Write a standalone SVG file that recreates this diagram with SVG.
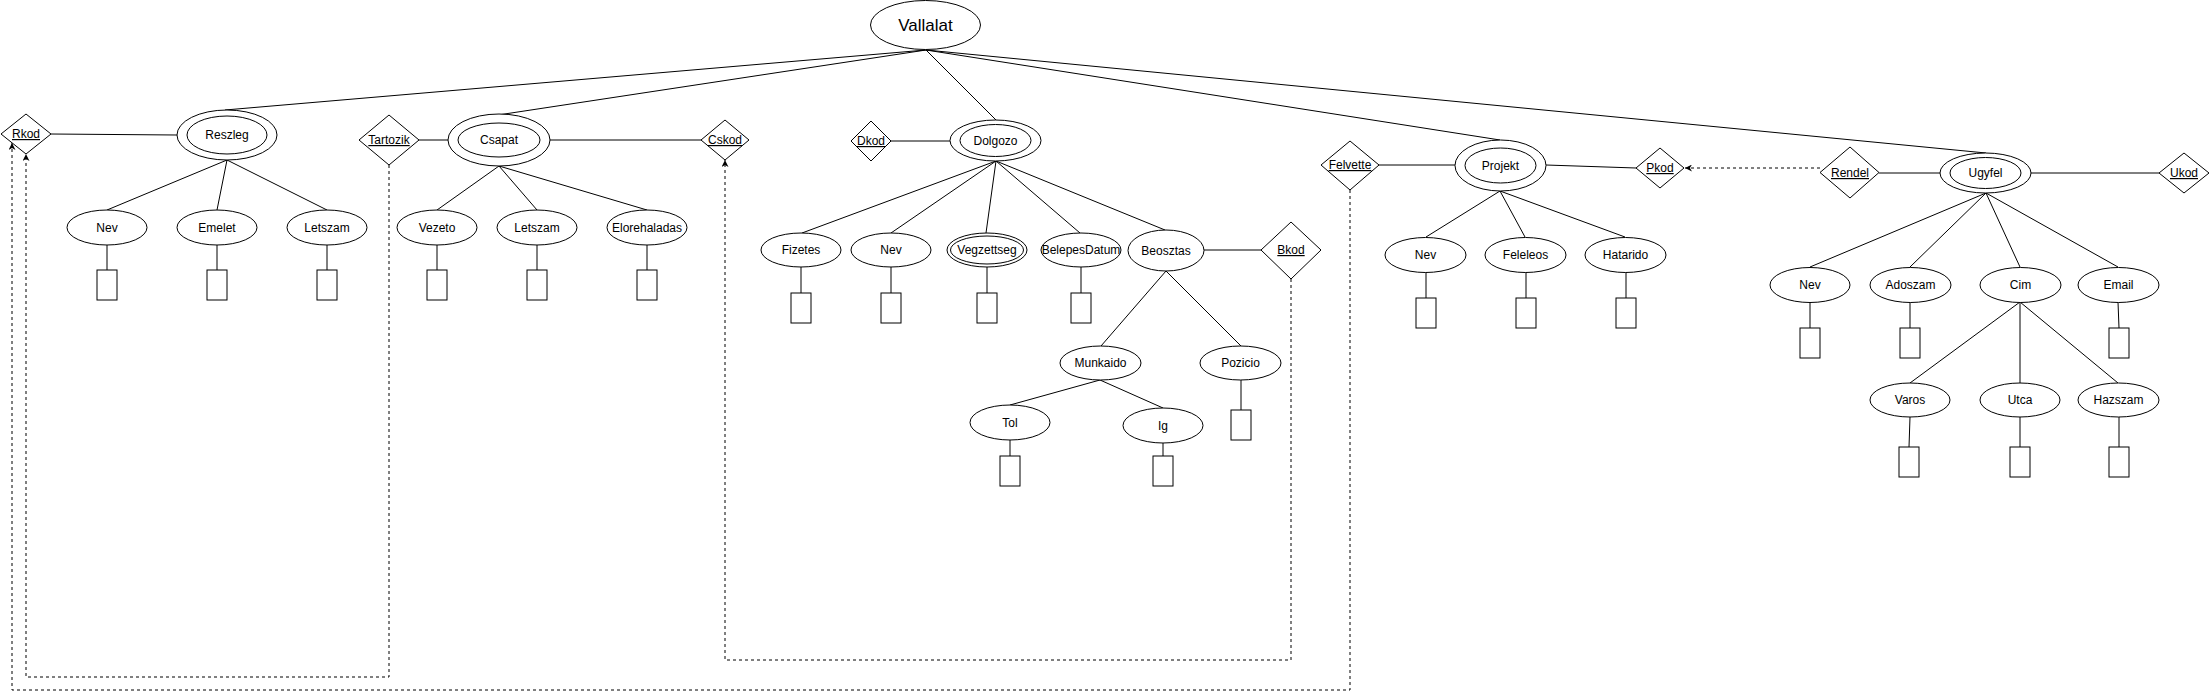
<svg xmlns="http://www.w3.org/2000/svg" width="2210" height="699" viewBox="0 0 2210 699">
<style>
.s{fill:#fff;stroke:#000;stroke-width:1}
.l{fill:none;stroke:#000;stroke-width:1}
.d{fill:none;stroke:#000;stroke-width:1;stroke-dasharray:3 3}
text{font-family:"Liberation Sans",Arial,sans-serif;font-size:12px;text-anchor:middle;fill:#000}
.u{text-decoration:underline}
</style>
<defs>
<marker id="arr" viewBox="0 0 10 10" refX="10" refY="5" markerWidth="7" markerHeight="7" markerUnits="userSpaceOnUse" orient="auto">
<path d="M0,0 L10,5 L0,10 L3,5 z" fill="#000"/>
</marker>
</defs>
<rect width="2210" height="699" fill="#fff"/>
<g id="connectors">
<path class="l" d="M926,50 L225,110 M926,50 L498,115 M926,50 L996,120 M926,50 L1500,140 M926,50 L1986,153"/>
<path class="l" d="M51,134 L177,135 M227,160 L107,210 M227,160 L217,210 M227,160 L327,210 M107,245 V270 M217,245 V270 M327,245 V270"/>
<path class="l" d="M419,140 H448 M550,140 H701 M499,166 L437,210 M499,166 L537,210 M499,166 L647,210 M437,245 V270 M537,245 V270 M647,245 V270"/>
<path class="l" d="M891,141 H950 M996,161 L802,233 M996,161 L891,233 M996,161 L986,233 M996,161 L1080,233 M996,161 L1165,230 M801,267 V293 M891,267 V293 M987,267 V293 M1081,267 V293"/>
<path class="l" d="M1204,250 H1261 M1166,271 L1101,346 M1166,271 L1241,346 M1100,380 L1010,405 M1100,380 L1163,408 M1010,440 V456 M1163,443 V456 M1241,380 V410"/>
<path class="l" d="M1379,165 H1455 M1546,165 L1636,168 M1500,191 L1426,237 M1500,191 L1525,237 M1500,191 L1625,237 M1426,272 V298 M1526,272 V298 M1626,272 V298"/>
<path class="l" d="M1879,173 H1940 M2031,173 H2159 M1986,193 L1810,267 M1986,193 L1910,267 M1986,193 L2020,267 M1986,193 L2118,267 M1810,302 V328 M1910,302 V328 M2118,302 L2119,328"/>
<path class="l" d="M2020,302 L1910,383 M2020,302 L2020,383 M2020,302 L2118,383 M1910,417 L1909,447 M2020,417 V447 M2119,417 V447"/>
<path class="d" d="M389,165 V677 H26 V154" marker-end="url(#arr)"/>
<path class="d" d="M1350,190 V690 H12 V143" marker-end="url(#arr)"/>
<path class="d" d="M1291,279 V660 H725 V160" marker-end="url(#arr)"/>
<path class="d" d="M1820,168 H1685" marker-end="url(#arr)"/>
</g>
<g id="vallalat"><ellipse class="s" cx="925.5" cy="25" rx="55" ry="24.5"/><text x="925.5" y="31" style="font-size:17px">Vallalat</text></g>
<g id="rkod"><polygon class="s" points="1,134 26,114 51,134 26,154"/><text class="u" x="26" y="138">Rkod</text></g>
<g id="reszleg"><ellipse class="s" cx="227" cy="135" rx="50" ry="25"/><ellipse class="s" cx="227" cy="135" rx="40" ry="19"/><text x="227" y="139">Reszleg</text></g>
<g id="reszleg-nev"><ellipse class="s" cx="107" cy="227.5" rx="40" ry="17.5"/><text x="107" y="232">Nev</text><rect class="s" x="97" y="270" width="20" height="30"/></g>
<g id="reszleg-emelet"><ellipse class="s" cx="217" cy="227.5" rx="40" ry="17.5"/><text x="217" y="232">Emelet</text><rect class="s" x="207" y="270" width="20" height="30"/></g>
<g id="reszleg-letszam"><ellipse class="s" cx="327" cy="227.5" rx="40" ry="17.5"/><text x="327" y="232">Letszam</text><rect class="s" x="317" y="270" width="20" height="30"/></g>
<g id="tartozik"><polygon class="s" points="359,140 389,115 419,140 389,165"/><text class="u" x="389" y="144">Tartozik</text></g>
<g id="csapat"><ellipse class="s" cx="499" cy="140" rx="51" ry="26"/><ellipse class="s" cx="499" cy="140" rx="41" ry="17"/><text x="499" y="144">Csapat</text></g>
<g id="cskod"><polygon class="s" points="701,140 725,120 749,140 725,160"/><text class="u" x="725" y="144">Cskod</text></g>
<g id="csapat-vezeto"><ellipse class="s" cx="437" cy="227.5" rx="40" ry="17.5"/><text x="437" y="232">Vezeto</text><rect class="s" x="427" y="270" width="20" height="30"/></g>
<g id="csapat-letszam"><ellipse class="s" cx="537" cy="227.5" rx="40" ry="17.5"/><text x="537" y="232">Letszam</text><rect class="s" x="527" y="270" width="20" height="30"/></g>
<g id="csapat-elorehaladas"><ellipse class="s" cx="647" cy="227.5" rx="40" ry="17.5"/><text x="647" y="232">Elorehaladas</text><rect class="s" x="637" y="270" width="20" height="30"/></g>
<g id="dkod"><polygon class="s" points="851,141 871,121 891,141 871,161"/><text class="u" x="871" y="145">Dkod</text></g>
<g id="dolgozo"><ellipse class="s" cx="995.5" cy="140.5" rx="45.5" ry="20.5"/><ellipse class="s" cx="995.5" cy="140.5" rx="35.5" ry="16"/><text x="995.5" y="145">Dolgozo</text></g>
<g id="dolgozo-fizetes"><ellipse class="s" cx="801" cy="250" rx="40" ry="17"/><text x="801" y="254">Fizetes</text><rect class="s" x="791" y="293" width="20" height="30"/></g>
<g id="dolgozo-nev"><ellipse class="s" cx="891" cy="250" rx="40" ry="17"/><text x="891" y="254">Nev</text><rect class="s" x="881" y="293" width="20" height="30"/></g>
<g id="dolgozo-vegzettseg"><ellipse class="s" cx="987" cy="250" rx="40" ry="17"/><ellipse class="s" cx="987" cy="250" rx="36.5" ry="14"/><text x="987" y="254">Vegzettseg</text><rect class="s" x="977" y="293" width="20" height="30"/></g>
<g id="dolgozo-belepesdatum"><ellipse class="s" cx="1081" cy="250" rx="40" ry="17"/><text x="1081" y="254">BelepesDatum</text><rect class="s" x="1071" y="293" width="20" height="30"/></g>
<g id="beosztas"><ellipse class="s" cx="1166" cy="250.5" rx="38" ry="20.5"/><text x="1166" y="255">Beosztas</text></g>
<g id="bkod"><polygon class="s" points="1261,250 1291,222 1321,250 1291,279"/><text class="u" x="1291" y="254">Bkod</text></g>
<g id="munkaido"><ellipse class="s" cx="1100.5" cy="363" rx="40.5" ry="17"/><text x="1100.5" y="367">Munkaido</text></g>
<g id="pozicio"><ellipse class="s" cx="1240.5" cy="363" rx="40.5" ry="17"/><text x="1240.5" y="367">Pozicio</text><rect class="s" x="1231" y="410" width="20" height="30"/></g>
<g id="tol"><ellipse class="s" cx="1010" cy="422.5" rx="40" ry="17.5"/><text x="1010" y="427">Tol</text><rect class="s" x="1000" y="456" width="20" height="30"/></g>
<g id="ig"><ellipse class="s" cx="1163" cy="425.5" rx="40" ry="17.5"/><text x="1163" y="430">Ig</text><rect class="s" x="1153" y="456" width="20" height="30"/></g>
<g id="felvette"><polygon class="s" points="1321,165 1350,141 1379,165 1350,190"/><text class="u" x="1350" y="169">Felvette</text></g>
<g id="projekt"><ellipse class="s" cx="1500.5" cy="165.5" rx="45.5" ry="25.5"/><ellipse class="s" cx="1500.5" cy="165.5" rx="35.5" ry="17.5"/><text x="1500.5" y="170">Projekt</text></g>
<g id="pkod"><polygon class="s" points="1636,168 1660,148 1684,168 1660,188"/><text class="u" x="1660" y="172">Pkod</text></g>
<g id="projekt-nev"><ellipse class="s" cx="1425.5" cy="255" rx="40.5" ry="17.5"/><text x="1425.5" y="259">Nev</text><rect class="s" x="1416" y="298" width="20" height="30"/></g>
<g id="projekt-felelos"><ellipse class="s" cx="1525.5" cy="255" rx="40.5" ry="17.5"/><text x="1525.5" y="259">Feleleos</text><rect class="s" x="1516" y="298" width="20" height="30"/></g>
<g id="projekt-hatarido"><ellipse class="s" cx="1625.5" cy="255" rx="40.5" ry="17.5"/><text x="1625.5" y="259">Hatarido</text><rect class="s" x="1616" y="298" width="20" height="30"/></g>
<g id="rendel"><polygon class="s" points="1820,172.5 1850,147 1879,172.5 1850,198"/><text class="u" x="1850" y="177">Rendel</text></g>
<g id="ugyfel"><ellipse class="s" cx="1985.5" cy="173" rx="45.5" ry="20"/><ellipse class="s" cx="1985.5" cy="173" rx="35.5" ry="15.5"/><text x="1985.5" y="177">Ugyfel</text></g>
<g id="ukod"><polygon class="s" points="2159,173 2184,153 2209,173 2184,193"/><text class="u" x="2184" y="177">Ukod</text></g>
<g id="ugyfel-nev"><ellipse class="s" cx="1810" cy="285" rx="40" ry="17.5"/><text x="1810" y="289">Nev</text><rect class="s" x="1800" y="328" width="20" height="30"/></g>
<g id="ugyfel-adoszam"><ellipse class="s" cx="1910.5" cy="285" rx="40.5" ry="17.5"/><text x="1910.5" y="289">Adoszam</text><rect class="s" x="1900" y="328" width="20" height="30"/></g>
<g id="cim"><ellipse class="s" cx="2020.5" cy="285" rx="40.5" ry="17.5"/><text x="2020.5" y="289">Cim</text></g>
<g id="ugyfel-email"><ellipse class="s" cx="2118.5" cy="285" rx="40.5" ry="17.5"/><text x="2118.5" y="289">Email</text><rect class="s" x="2109" y="328" width="20" height="30"/></g>
<g id="varos"><ellipse class="s" cx="1910" cy="400" rx="40" ry="17"/><text x="1910" y="404">Varos</text><rect class="s" x="1899" y="447" width="20" height="30"/></g>
<g id="utca"><ellipse class="s" cx="2020" cy="400" rx="40" ry="17"/><text x="2020" y="404">Utca</text><rect class="s" x="2010" y="447" width="20" height="30"/></g>
<g id="hazszam"><ellipse class="s" cx="2118.5" cy="400" rx="40.5" ry="17"/><text x="2118.5" y="404">Hazszam</text><rect class="s" x="2109" y="447" width="20" height="30"/></g>
</svg>
